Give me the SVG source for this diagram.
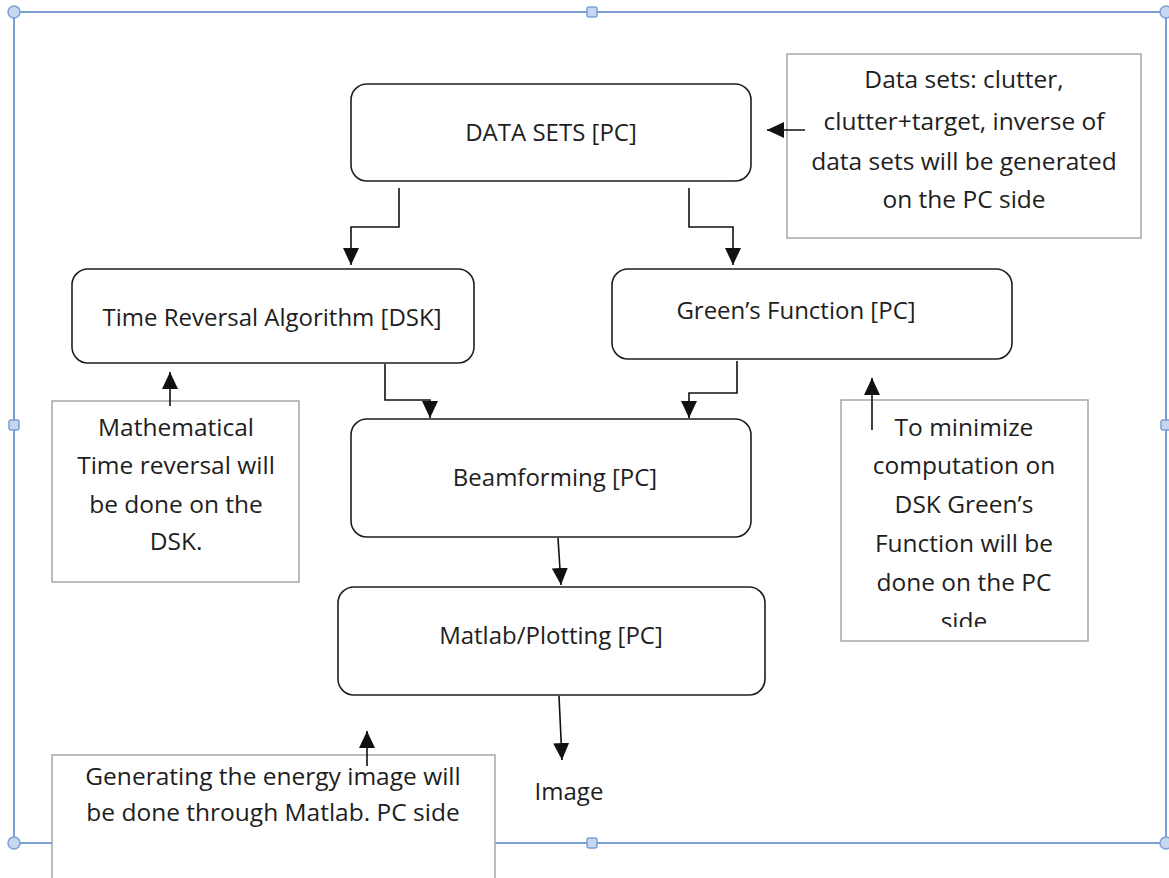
<svg xmlns="http://www.w3.org/2000/svg" width="1169" height="878" viewBox="0 0 1169 878">
  <defs>
    <style>
      .node { fill: #ffffff; stroke: #1e1e1e; stroke-width: 1.6; }
      .note { fill: #ffffff; stroke: #a6a6a6; stroke-width: 1.5; }
      .ntext { font-family: "Open Sans", "Liberation Sans", sans-serif; font-size: 24px; fill: #1e1e1e; text-anchor: middle; }
      .atext { font-family: "Open Sans", "Liberation Sans", sans-serif; font-size: 24.5px; fill: #1e1e1e; text-anchor: middle; }
      .conn { fill: none; stroke: #111111; stroke-width: 1.6; }
      .frame { fill: none; stroke: #7b9fd6; stroke-width: 2; }
      .hnd { fill: #c6d8f0; stroke: #7b9fd6; stroke-width: 1.5; }
    </style>
    <marker id="arr" viewBox="0 0 17 16" refX="17" refY="8" markerWidth="17" markerHeight="16" markerUnits="userSpaceOnUse" orient="auto">
      <path d="M0,0 L17,8 L0,16 z" fill="#111111"/>
    </marker>
    <clipPath id="clipSide">
      <rect x="841" y="400" width="247" height="227"/>
    </clipPath>
  </defs>

  <!-- selection frame -->
  <g id="selection-frame">
    <rect class="frame" x="14" y="12" width="1152" height="831"/>
  </g>

  <g id="node-datasets">
    <rect class="node" x="351" y="84" width="400" height="97" rx="16"/>
    <text class="ntext" x="551" y="141">DATA SETS [PC]</text>
  </g>
  <g id="node-timereversal">
    <rect class="node" x="72" y="269" width="402" height="94" rx="16"/>
    <text class="ntext" x="272" y="326">Time Reversal Algorithm [DSK]</text>
  </g>
  <g id="node-greens">
    <rect class="node" x="612" y="269" width="400" height="90" rx="16"/>
    <text class="ntext" x="796" y="319">Green’s Function [PC]</text>
  </g>
  <g id="node-beamforming">
    <rect class="node" x="351" y="419" width="400" height="118" rx="16"/>
    <text class="ntext" x="555" y="486">Beamforming [PC]</text>
  </g>
  <g id="node-matlab">
    <rect class="node" x="338" y="587" width="427" height="108" rx="16"/>
    <text class="ntext" x="551" y="644">Matlab/Plotting [PC]</text>
  </g>
  <g id="node-image">
    <text class="ntext" x="569" y="800">Image</text>
  </g>

  <g id="note-datasets">
    <rect class="note" x="787" y="54" width="354" height="184"/>
    <text class="atext" x="964" y="88">Data sets: clutter,</text>
    <text class="atext" x="964" y="130">clutter+target, inverse of</text>
    <text class="atext" x="964" y="170">data sets will be generated</text>
    <text class="atext" x="964" y="208">on the PC side</text>
  </g>
  <g id="note-timereversal">
    <rect class="note" x="52" y="401" width="247" height="181"/>
    <text class="atext" x="176" y="436">Mathematical</text>
    <text class="atext" x="176" y="474">Time reversal will</text>
    <text class="atext" x="176" y="513">be done on the</text>
    <text class="atext" x="176" y="550">DSK.</text>
  </g>
  <g id="note-greens">
    <rect class="note" x="841" y="400" width="247" height="241"/>
    <text class="atext" x="964" y="436">To minimize</text>
    <text class="atext" x="964" y="474">computation on</text>
    <text class="atext" x="964" y="513">DSK Green’s</text>
    <text class="atext" x="964" y="552">Function will be</text>
    <text class="atext" x="964" y="591">done on the PC</text>
    <text class="atext" x="964" y="630" clip-path="url(#clipSide)">side</text>
  </g>
  <g id="note-matlab">
    <rect class="note" x="52" y="755" width="443" height="140"/>
    <text class="atext" x="273" y="785">Generating the energy image will</text>
    <text class="atext" x="273" y="821">be done through Matlab. PC side</text>
  </g>

  <!-- connectors -->
  <g id="connectors">
    <polyline class="conn" points="399,188 399,227 351,227 351,265" marker-end="url(#arr)"/>
    <polyline class="conn" points="689,188 689,227 733,227 733,265" marker-end="url(#arr)"/>
    <polyline class="conn" points="385,364 385,400 430,400 430,418" marker-end="url(#arr)"/>
    <polyline class="conn" points="737,361 737,393 689,393 689,418" marker-end="url(#arr)"/>
    <line class="conn" x1="558" y1="538" x2="561" y2="585" marker-end="url(#arr)"/>
    <line class="conn" x1="559" y1="696" x2="562" y2="760" marker-end="url(#arr)"/>
    <line class="conn" x1="805" y1="130" x2="767" y2="130" marker-end="url(#arr)"/>
    <line class="conn" x1="170" y1="406" x2="170" y2="372" marker-end="url(#arr)"/>
    <line class="conn" x1="872" y1="430" x2="872" y2="378" marker-end="url(#arr)"/>
    <line class="conn" x1="367" y1="766" x2="367" y2="731" marker-end="url(#arr)"/>
  </g>

  <!-- selection handles -->
  <g id="selection-handles">
    <circle class="hnd" cx="14" cy="12" r="6"/>
    <circle class="hnd" cx="1166" cy="12" r="6"/>
    <circle class="hnd" cx="14" cy="843" r="6"/>
    <circle class="hnd" cx="1166" cy="843" r="6"/>
    <rect class="hnd" x="587" y="7" width="10" height="10" rx="2"/>
    <rect class="hnd" x="9" y="420" width="10" height="10" rx="2"/>
    <rect class="hnd" x="1161" y="420" width="10" height="10" rx="2"/>
    <rect class="hnd" x="587" y="838" width="10" height="10" rx="2"/>
  </g>
</svg>
